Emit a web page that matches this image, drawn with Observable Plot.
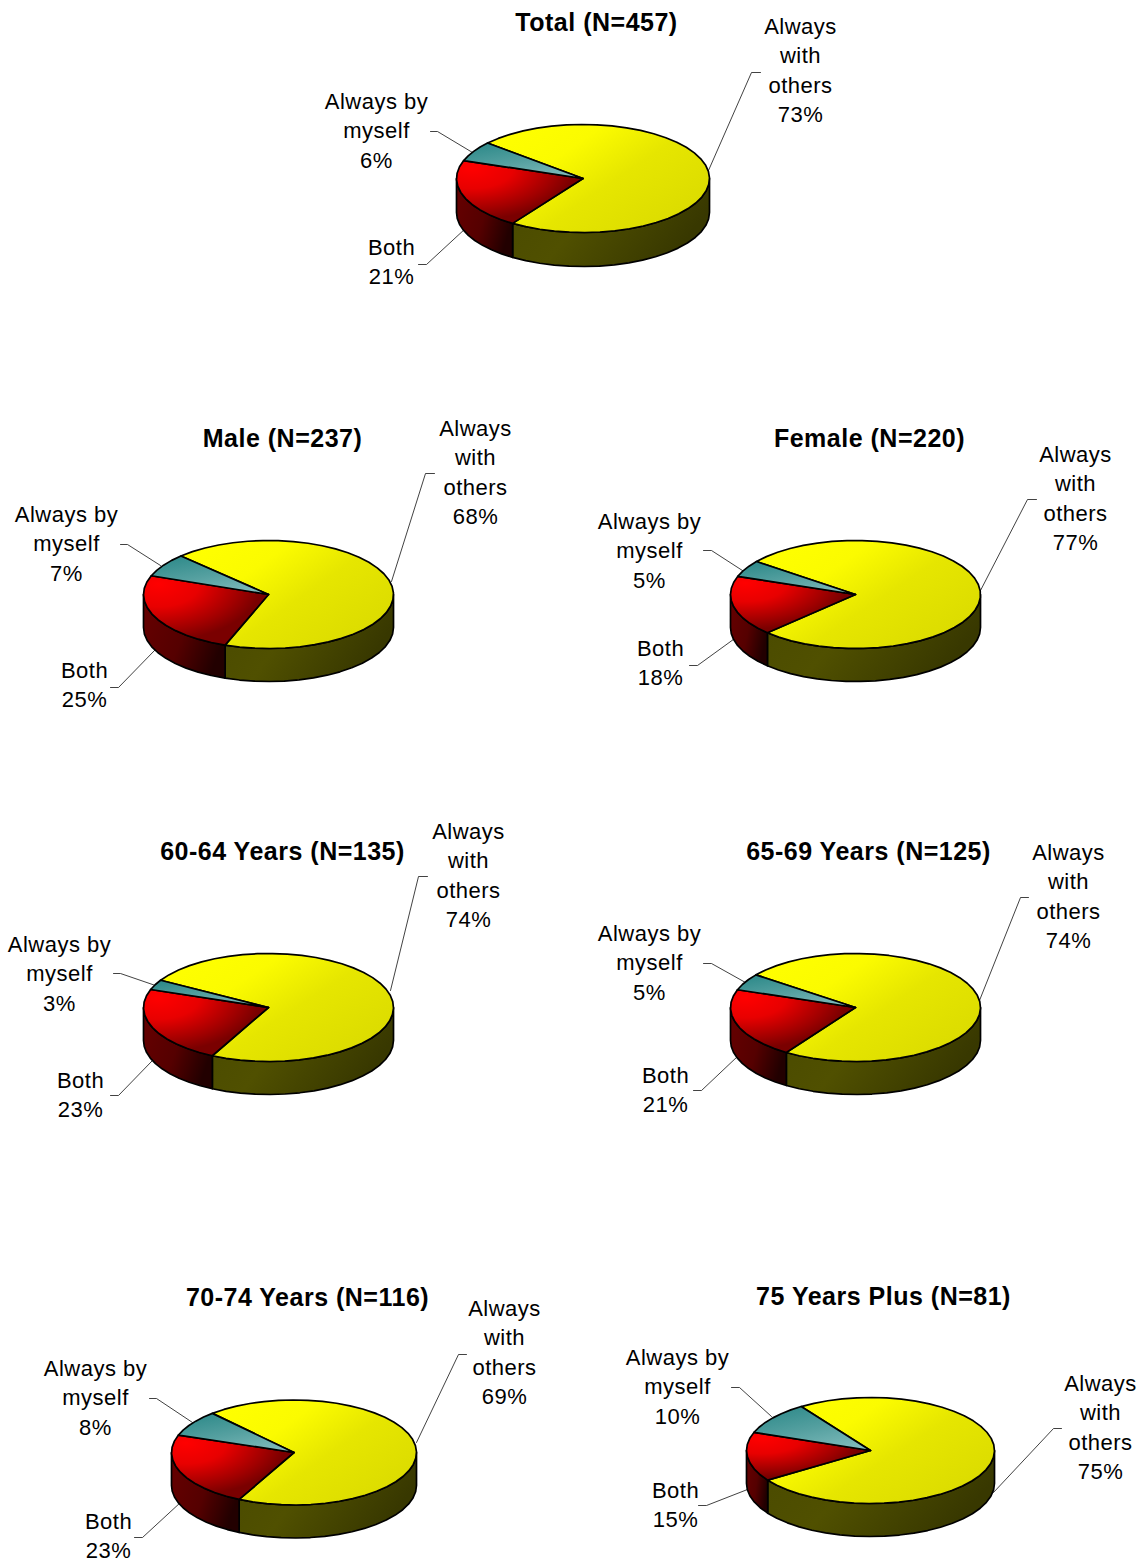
<!DOCTYPE html>
<html>
<head>
<meta charset="utf-8">
<script src="https://cdn.jsdelivr.net/npm/d3@7"></script>
<script src="https://cdn.jsdelivr.net/npm/@observablehq/plot@0.6"></script>
<style>
html,body{margin:0;padding:0;background:#fff}
svg{display:block}
</style>
</head>
<body>
<div id="chart"></div>
<script>
// ---- data ----
const groups = ["Total", "Male", "Female", "60-64 Years", "65-69 Years", "70-74 Years", "75 Years Plus"];
const sampleSizes = [457, 237, 220, 135, 125, 116, 81];
const withOthers = [73, 68, 77, 74, 74, 69, 75];
const both = [21, 25, 18, 23, 21, 23, 15];
const byMyself = [6, 7, 5, 3, 5, 8, 10];

// ---- layout: pie centre/radii/depth and first-slice angle ----
const pieCx = [582.5, 268, 855, 268, 855, 293.5, 870];
const pieCy = [178, 594, 594, 1007, 1007, 1452, 1450];
const pieRx = [126.5, 125, 125, 125, 125, 122.5, 124];
const pieRy = [54, 54, 54, 54, 54, 52.5, 53];
const pieDepth = [34, 33, 33, 33, 33, 33, 33];
const firstAngle = [-49, -44.5, -52.4, -59.7, -52.8, -41.8, -34];

// ---- layout: text centres and leader lines ----
const titlePos = [[596,22],[282,438],[869,438],[282,851],[868,851],[307,1297],[883,1296]];
const othersPos = [[800,24],[475,426],[1075,452],[468,829],[1068,850],[504,1306],[1100,1381]];
const myselfPos = [[376,99],[66,512],[649,519],[59,942],[649,931],[95,1366],[677,1355]];
const bothPos = [[391,245],[84,668],[660,646],[80,1078],[665,1073],[108,1519],[675,1488]];
const othersLeader = [
  [[708,170],[751,72],[760,72]], [[391,581],[425,473],[434,473]], [[980,590],[1027,499],[1036,499]],
  [[390,990],[418,876],[427,876]], [[979,1000],[1020,897],[1028,897]], [[416,1442],[458,1354],[466,1354]],
  [[993,1492],[1053,1428],[1061,1428]]];
const myselfLeader = [
  [[472,152],[437,131],[430,131]], [[160,565],[127,544],[120,544]], [[745,572],[711,550],[703,550]],
  [[155,985],[120,973],[113,973]], [[745,982],[711,963],[703,963]], [[192,1422],[156,1398],[149,1398]],
  [[771,1416],[739,1387],[731,1387]]];
const bothLeader = [
  [[465,228],[426,264],[418,264]], [[155,649],[118,687],[110,687]], [[737,636],[697,665],[689,665]],
  [[152,1060],[118,1095],[110,1095]], [[737,1056],[701,1090],[693,1090]], [[180,1502],[142,1537],[134,1537]],
  [[747,1489],[706,1505],[698,1505]]];

// ---- gradients ----
const gradientDefs = [
  {id:"gYellow", x1:0.05,y1:0.1,x2:0.95,y2:0.75, stops:[[0,"#ffff00"],[0.3,"#fbfb00"],[0.6,"#e6e600"],[1,"#dcdc00"]]},
  {id:"gTeal", x1:0.2,y1:0,x2:0.8,y2:1, stops:[[0,"#2e8a8a"],[0.5,"#55a0a0"],[1,"#80bcbc"]]},
  {id:"gYellowSide", x1:0,y1:0,x2:1,y2:0.35, stops:[[0,"#4a4a00"],[0.45,"#505000"],[0.75,"#434300"],[1,"#383800"]]},
  {id:"gRedSide", x1:0,y1:0.1,x2:1,y2:0.5, stops:[[0,"#660000"],[0.55,"#550000"],[1,"#220000"]]},
  {id:"gTealSide", x1:0,y1:0,x2:1,y2:0, stops:[[0,"#1f5c5c"],[1,"#143c3c"]]}
];
const redStops = [[0,"#ff0000"],[0.4,"#e80000"],[0.8,"#a00000"],[1,"#7a0000"]];

function defsMark() {
  const defs = d3.create("svg:defs");
  for (const g of gradientDefs) {
    const lg = defs.append("linearGradient").attr("id", g.id)
      .attr("x1", g.x1).attr("y1", g.y1).attr("x2", g.x2).attr("y2", g.y2);
    for (const [o, c] of g.stops) lg.append("stop").attr("offset", o).attr("stop-color", c);
  }
  const rg = defs.append("radialGradient").attr("id", "gRed")
    .attr("cx", 0.12).attr("cy", 0.12).attr("r", 0.82);
  for (const [o, c] of redStops) rg.append("stop").attr("offset", o).attr("stop-color", c);
  return defs.node();
}

const rad = Math.PI / 180;
function arcPoints(i, a, b, dy = 0) {
  const n = Math.max(2, Math.ceil(Math.abs(b - a) / 7));
  return d3.range(n + 1).map(k => {
    const t = (a + (b - a) * k / n) * rad;
    return {x: pieCx[i] + pieRx[i] * Math.sin(t), y: pieCy[i] - pieRy[i] * Math.cos(t) + dy};
  });
}

const pieStroke = {x: "x", y: "y", stroke: "#000", strokeWidth: 1.7, strokeLinejoin: "round", strokeMiterlimit: 2};
const marks = [defsMark];

groups.forEach((g, i) => {
  const s0 = firstAngle[i];
  const s1 = s0 + withOthers[i] * 3.6;
  const s2 = s1 + both[i] * 3.6;
  const s3 = s2 + byMyself[i] * 3.6;
  const slices = [[s0, s1, "gYellow", "gYellowSide"], [s1, s2, "gRed", "gRedSide"], [s2, s3, "gTeal", "gTealSide"]];

  // leader lines
  for (const l of [othersLeader[i], myselfLeader[i], bothLeader[i]]) {
    marks.push(Plot.line(l, {x: d => d[0], y: d => d[1], stroke: "#111", strokeWidth: 0.8}));
  }
  // rim of the disc: only the front half is visible
  for (const [a, b, , side] of slices) {
    const lo = Math.max(a, 90), hi = Math.min(b, 270);
    if (hi <= lo) continue;
    const top = arcPoints(i, lo, hi);
    const bottom = arcPoints(i, hi, lo, pieDepth[i]);
    const poly = [...top, ...bottom, top[0]];
    marks.push(Plot.line(poly, {...pieStroke, fill: `url(#${side})`}));
  }
  // top faces
  for (const [a, b, face] of slices) {
    const centre = {x: pieCx[i], y: pieCy[i]};
    const poly = [centre, ...arcPoints(i, a, b), centre];
    marks.push(Plot.line(poly, {...pieStroke, fill: `url(#${face})`}));
  }
});

const labelOpts = {x: "x", y: "y", text: "t", textAnchor: "middle", lineAnchor: "middle", fill: "#000", stroke: "none"};
const labelRows = (pos, fn) => groups.map((g, i) => {
  const lines = fn(i).split("\n");
  // the listed y is the middle of the first line; the block is centred on its own middle
  return {x: pos[i][0], y: pos[i][1] + (lines.length - 1) * 29.4 / 2, t: fn(i)};
});

marks.push(
  Plot.text(labelRows(titlePos, i => `${groups[i]} (N=${sampleSizes[i]})`),
    {...labelOpts, fontSize: 25, fontWeight: "bold"}),
  Plot.text(labelRows(othersPos, i => `Always\nwith\nothers\n${withOthers[i]}%`),
    {...labelOpts, fontSize: 22, lineHeight: 29.4 / 22}),
  Plot.text(labelRows(myselfPos, i => `Always by\nmyself\n${byMyself[i]}%`),
    {...labelOpts, fontSize: 22, lineHeight: 29.4 / 22}),
  Plot.text(labelRows(bothPos, i => `Both\n${both[i]}%`),
    {...labelOpts, fontSize: 22, lineHeight: 29.4 / 22})
);

const chart = Plot.plot({
  width: 1147,
  height: 1562,
  margin: 0,
  x: {domain: [0, 1147], range: [0, 1147], axis: null},
  y: {domain: [0, 1562], range: [0, 1562], axis: null},
  style: {background: "#fff", fontFamily: "'Liberation Sans', Arial, sans-serif", letterSpacing: "0.5px"},
  marks
});
document.getElementById("chart").append(chart);
</script>
</body>
</html>
